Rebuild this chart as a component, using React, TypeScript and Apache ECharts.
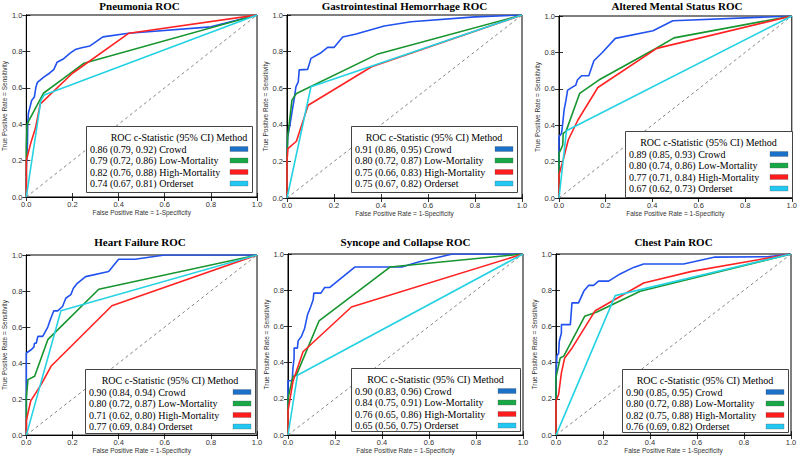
import React, { useEffect, useRef } from "react";
import * as echarts from "echarts";

// ---------- data ----------
const panelTitles = [
  "Pneumonia ROC",
  "Gastrointestinal Hemorrhage ROC",
  "Altered Mental Status ROC",
  "Heart Failure ROC",
  "Syncope and Collapse ROC",
  "Chest Pain ROC",
];

const legendLabels = [
  ["0.86 (0.79, 0.92) Crowd", "0.79 (0.72, 0.86) Low-Mortality", "0.82 (0.76, 0.88) High-Mortality", "0.74 (0.67, 0.81) Orderset"],
  ["0.91 (0.86, 0.95) Crowd", "0.80 (0.72, 0.87) Low-Mortality", "0.75 (0.66, 0.83) High-Mortality", "0.75 (0.67, 0.82) Orderset"],
  ["0.89 (0.85, 0.93) Crowd", "0.80 (0.74, 0.86) Low-Mortality", "0.77 (0.71, 0.84) High-Mortality", "0.67 (0.62, 0.73) Orderset"],
  ["0.90 (0.84, 0.94) Crowd", "0.80 (0.72, 0.87) Low-Mortality", "0.71 (0.62, 0.80) High-Mortality", "0.77 (0.69, 0.84) Orderset"],
  ["0.90 (0.83, 0.96) Crowd", "0.84 (0.75, 0.91) Low-Mortality", "0.76 (0.65, 0.86) High-Mortality", "0.65 (0.56, 0.75) Orderset"],
  ["0.90 (0.85, 0.95) Crowd", "0.80 (0.72, 0.88) Low-Mortality", "0.82 (0.75, 0.88) High-Mortality", "0.76 (0.69, 0.82) Orderset"],
];

const tickValues = [0, 0.2, 0.4, 0.6, 0.8, 1.0];
const diagonal = [[0, 0], [1, 1]];

// Pneumonia
const pneumoniaCrowd = [[0,0],[0,0.15],[0.005,0.3],[0.006,0.40],[0.009,0.46],[0.013,0.48],[0.023,0.53],[0.035,0.55],[0.041,0.60],[0.048,0.63],[0.077,0.66],[0.10,0.68],[0.119,0.70],[0.133,0.74],[0.162,0.76],[0.19,0.79],[0.212,0.81],[0.24,0.82],[0.276,0.83],[0.332,0.88],[0.443,0.90],[0.8,0.935],[1,1]];
const pneumoniaLow = [[0,0],[0,0.27],[0.003,0.40],[0.074,0.57],[0.16,0.65],[0.25,0.735],[1,1]];
const pneumoniaHigh = [[0,0],[0,0.2],[0.02,0.3],[0.04,0.38],[0.06,0.51],[0.2,0.68],[0.445,0.90],[1,1]];
const pneumoniaOrder = [[0,0],[0.063,0.53],[0.077,0.56],[1,1]];

// Gastrointestinal Hemorrhage
const giCrowd = [[0,0],[0,0.2],[0.003,0.334],[0.014,0.41],[0.02,0.46],[0.031,0.544],[0.038,0.607],[0.048,0.635],[0.052,0.70],[0.088,0.703],[0.102,0.763],[0.145,0.794],[0.173,0.823],[0.2,0.823],[0.237,0.88],[0.294,0.896],[0.414,0.94],[0.528,0.963],[0.8,0.99],[1,1]];
const giLow = [[0,0],[0,0.22],[0.003,0.334],[0.021,0.535],[0.04,0.571],[0.383,0.785],[1,1]];
const giHigh = [[0,0],[0,0.2],[0.004,0.27],[0.04,0.31],[0.09,0.507],[0.36,0.717],[1,1]];
const giOrder = [[0,0],[0.102,0.608],[1,1]];

// Altered Mental Status
const amsCrowd = [[0,0],[0,0.337],[0.011,0.356],[0.016,0.41],[0.022,0.484],[0.03,0.538],[0.037,0.593],[0.072,0.62],[0.079,0.648],[0.097,0.672],[0.128,0.672],[0.15,0.754],[0.185,0.798],[0.242,0.877],[0.404,0.919],[0.489,0.974],[1,1]];
const amsLow = [[0,0],[0,0.245],[0.016,0.29],[0.018,0.355],[0.03,0.366],[0.089,0.575],[0.171,0.648],[0.414,0.82],[0.494,0.88],[1,1]];
const amsHigh = [[0,0],[0,0.128],[0.018,0.21],[0.04,0.32],[0.082,0.43],[0.167,0.607],[0.42,0.822],[1,1]];
const amsOrder = [[0,0],[0.032,0.369],[0.04,0.375],[1,1]];

// Heart Failure
const hfCrowd = [[0,0],[0,0.456],[0.021,0.474],[0.033,0.49],[0.035,0.51],[0.043,0.51],[0.05,0.548],[0.071,0.548],[0.093,0.60],[0.104,0.64],[0.119,0.69],[0.136,0.69],[0.157,0.714],[0.171,0.76],[0.193,0.78],[0.204,0.815],[0.221,0.843],[0.257,0.88],[0.357,0.908],[0.40,0.976],[0.471,0.976],[0.6,1],[1,1]];
const hfLow = [[0,0],[0,0.207],[0.007,0.308],[0.036,0.327],[0.093,0.53],[0.314,0.81],[1,1]];
const hfHigh = [[0,0],[0,0.08],[0.019,0.19],[0.064,0.28],[0.107,0.382],[0.371,0.718],[1,1]];
const hfOrder = [[0,0],[0.15,0.69],[1,1]];

// Syncope and Collapse
const syncCrowd = [[0,0],[0,0.30],[0.018,0.30],[0.021,0.37],[0.026,0.424],[0.026,0.48],[0.04,0.48],[0.043,0.52],[0.057,0.544],[0.071,0.59],[0.083,0.664],[0.097,0.71],[0.107,0.747],[0.11,0.784],[0.14,0.784],[0.156,0.815],[0.178,0.815],[0.284,0.928],[0.484,0.928],[0.555,0.956],[0.70,1],[1,1]];
const syncLow = [[0,0],[0,0.203],[0.021,0.323],[0.036,0.332],[0.132,0.63],[0.434,0.928],[1,1]];
const syncHigh = [[0,0],[0,0.133],[0.021,0.295],[0.064,0.46],[0.27,0.707],[1,1]];
const syncOrder = [[0,0],[0.04,0.33],[1,1]];

// Chest Pain
const cpCrowd = [[0,0],[0,0.33],[0.004,0.44],[0.011,0.45],[0.014,0.518],[0.023,0.564],[0.023,0.61],[0.061,0.61],[0.068,0.73],[0.096,0.73],[0.118,0.794],[0.139,0.827],[0.16,0.827],[0.181,0.85],[0.224,0.85],[0.273,0.89],[0.33,0.926],[0.373,0.945],[0.543,0.945],[0.677,0.983],[0.9,0.985],[1,1]];
const cpLow = [[0,0],[0,0.32],[0.018,0.426],[0.033,0.436],[0.122,0.656],[0.174,0.68],[0.358,0.794],[1,1]];
const cpHigh = [[0,0],[0,0.187],[0.011,0.224],[0.023,0.344],[0.037,0.426],[0.068,0.48],[0.167,0.687],[0.373,0.84],[0.578,0.904],[1,1]];
const cpOrder = [[0,0],[0.252,0.77],[1,1]];

const panelCurves = [
  [pneumoniaCrowd, pneumoniaLow, pneumoniaHigh, pneumoniaOrder],
  [giCrowd, giLow, giHigh, giOrder],
  [amsCrowd, amsLow, amsHigh, amsOrder],
  [hfCrowd, hfLow, hfHigh, hfOrder],
  [syncCrowd, syncLow, syncHigh, syncOrder],
  [cpCrowd, cpLow, cpHigh, cpOrder],
];

// ---------- styling / layout ----------
const lineColors = ["#2152ee", "#17952f", "#ff2323", "#24d2e2"];
const swatchColors = ["#1b70c8", "#19a847", "#ff1c1c", "#22c8f2"];

const grids = [
  { left: 22, top: 15, width: 235, height: 182 },
  { left: 287, top: 15, width: 235, height: 183 },
  { left: 559, top: 16, width: 236, height: 182 },
  { left: 23, top: 255, width: 234, height: 181 },
  { left: 288, top: 254, width: 235, height: 181 },
  { left: 556, top: 254, width: 235, height: 182 },
];
const titleTops = [0, 0, 0, 236, 236, 236];
const legendBoxes = [
  [86, 126, 166, 66],
  [351, 126, 166, 66],
  [625, 131, 167, 66],
  [85, 369, 170, 64],
  [351, 368, 169, 63],
  [622, 369, 166, 63],
];
const legendTitleShift = [10, 0, 0, 0, 0, 0];

const SERIF = "'Liberation Serif', 'Times New Roman', serif";
const SANS = "'Liberation Sans', Arial, sans-serif";

function buildOption() {
  const xAxes: any[] = [];
  const yAxes: any[] = [];
  const series: any[] = [];
  const titles: any[] = [];
  const graphics: any[] = [];

  grids.forEach((g, i) => {
    const common = {
      type: "value",
      gridIndex: i,
      min: tickValues[0],
      max: tickValues[tickValues.length - 1],
      interval: 0.2,
      splitLine: { show: false },
      axisLine: { show: true, lineStyle: { color: "#000", width: 1 } },
      axisTick: { show: true, inside: true, length: 4, lineStyle: { color: "#000", width: 0.8 } },
    };
    xAxes.push({
      ...common,
      position: "bottom",
      name: "False Positive Rate = 1-Specificity",
      nameLocation: "middle",
      nameGap: 10,
      nameTextStyle: { fontFamily: SANS, fontSize: 6.5, color: "#333" },
      axisLabel: { show: true, margin: 3, fontFamily: SANS, fontSize: 7.5, color: "#333", formatter: (v: number) => v.toFixed(1) },
    });
    xAxes.push({ ...common, position: "top", axisLabel: { show: false } });
    yAxes.push({
      ...common,
      position: "left",
      name: "True Positive Rate = Sensitivity",
      nameLocation: "middle",
      nameGap: 14,
      nameTextStyle: { fontFamily: SANS, fontSize: 6.5, color: "#333" },
      axisLabel: { show: true, margin: 4, fontFamily: SANS, fontSize: 7.5, color: "#333", formatter: (v: number) => v.toFixed(1) },
    });
    yAxes.push({ ...common, position: "right", axisLabel: { show: false } });

    series.push({
      type: "line",
      name: "chance-" + i,
      xAxisIndex: 2 * i,
      yAxisIndex: 2 * i,
      data: diagonal,
      symbol: "none",
      silent: true,
      lineStyle: { color: "#666", width: 0.8, type: [3, 3] },
      z: 2,
    });
    panelCurves[i].forEach((curve, k) => {
      series.push({
        type: "line",
        name: legendLabels[i][k],
        xAxisIndex: 2 * i,
        yAxisIndex: 2 * i,
        data: curve,
        symbol: "none",
        clip: true,
        lineStyle: { color: lineColors[k], width: 1.6 },
        itemStyle: { color: lineColors[k] },
        z: 3,
      });
    });

    titles.push({
      text: panelTitles[i],
      left: g.left + g.width / 2,
      top: titleTops[i],
      textAlign: "center",
      padding: 0,
      textStyle: { fontFamily: SERIF, fontWeight: "bold", fontSize: 11, color: "#000" },
    });

    const [bx, by, bw, bh] = legendBoxes[i];
    graphics.push({
      type: "rect",
      z: 100,
      shape: { x: bx + 0.5, y: by + 0.5, width: bw, height: bh },
      style: { fill: "#fff", stroke: "#444", lineWidth: 1 },
    });
    graphics.push({
      type: "text",
      z: 101,
      x: bx + bw / 2 + legendTitleShift[i],
      y: by + 11,
      style: { text: "ROC c-Statistic (95% CI) Method", font: `10px ${SERIF}`, fill: "#000", align: "center", verticalAlign: "middle" },
    });
    legendLabels[i].forEach((lab, k) => {
      const ry = by + 23 + k * 11.5;
      graphics.push({
        type: "text",
        z: 101,
        x: bx + 4,
        y: ry,
        style: { text: lab, font: `10px ${SERIF}`, fill: "#000", align: "left", verticalAlign: "middle" },
      });
      graphics.push({
        type: "rect",
        z: 101,
        shape: { x: bx + bw - 22, y: ry - 2.5, width: 18, height: 5 },
        style: { fill: swatchColors[k], stroke: "#555", lineWidth: 0.3 },
      });
    });
  });

  return {
    animation: false,
    backgroundColor: "#fff",
    title: titles,
    grid: grids.map((g) => ({ ...g, containLabel: false, show: true, borderColor: "#000", borderWidth: 1, backgroundColor: "transparent" })),
    xAxis: xAxes,
    yAxis: yAxes,
    series,
    graphic: graphics,
  };
}

export default function App() {
  const ref = useRef<HTMLDivElement>(null);
  useEffect(() => {
    if (!ref.current) return;
    const chart = echarts.init(ref.current, null, { renderer: "svg" });
    chart.setOption(buildOption() as any);
    return () => chart.dispose();
  }, []);
  return (
    <div
      ref={ref}
      style={{ position: "absolute", left: 0, top: 0, width: 800, height: 455, background: "#fff" }}
    />
  );
}
